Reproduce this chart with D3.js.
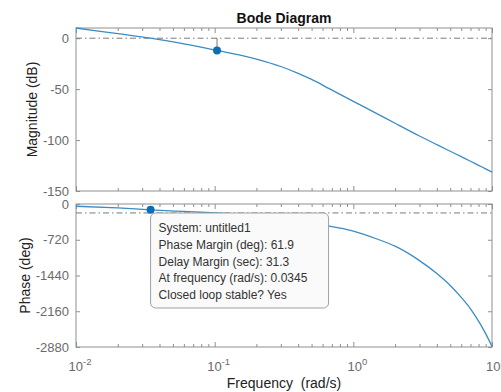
<!DOCTYPE html>
<html>
<head>
<meta charset="utf-8">
<script src="https://cdn.jsdelivr.net/npm/d3@7"></script>
<style>
body { margin: 0; background: #fff; }
text { font-family: "Liberation Sans", Arial, sans-serif; }
</style>
</head>
<body>
<div id="chart"></div>
<script>
var w = 501;
var h = 392;

// frequency response
var freq     = [0.01, 0.02, 0.0345, 0.06, 0.104, 0.15, 0.2, 0.3, 0.4, 0.5, 0.67, 1, 1.5, 2, 3, 4, 5, 6, 7, 8, 9, 10];
var magDb    = [10, 4.4, 0, -5.6, -12, -16.3, -20.5, -27.8, -34.5, -40.5, -49.5, -62, -74.5, -83.5, -96, -104.5, -111, -116.3, -120.8, -124.8, -128.3, -131.5];
var phaseDeg = [-45, -80, -118, -150, -180, -205, -230, -270, -320, -365, -446, -545, -710, -850, -1140, -1400, -1640, -1880, -2110, -2360, -2610, -2870];

var magTicks = [0, -50, -100, -150];
var phaseTicks = [0, -720, -1440, -2160, -2880];
var decades = [0.01, 0.1, 1, 10];
var decadeExp = ["-2", "-1", "0", "1"];

// margin markers
var gmFreq = 0.104, gmMag = -12;
var pmFreq = 0.0345, pmPhase = -118.1;

var tipLines = [
	"System: untitled1",
	"Phase Margin (deg): 61.9",
	"Delay Margin (sec): 31.3",
	"At frequency (rad/s): 0.0345",
	"Closed loop stable? Yes"
];

var left = 76, right = 492;
var magTop = 28, magBottom = 191;
var phTop = 204, phBottom = 347;

var lineColor = "#3a8cc4";
var dotColor = "#0b6fb8";
var axisColor = "#8f8f8f";
var labelColor = "#6a6a6a";

var svg = d3.select("#chart")
			.append("svg")
			.attr("width", w)
			.attr("height", h);

var x = d3.scaleLog()
			.domain([0.01, 10])
			.range([left, right]);

var yMag = d3.scaleLinear()
			.domain([-150, 10])
			.range([magBottom, magTop]);

var yPh = d3.scaleLinear()
			.domain([-2880, 0])
			.range([phBottom, phTop]);

var minorTicks = x.ticks().filter(function(d) {
	return decades.indexOf(d) < 0;
});

function styleAxis(g) {
	g.select(".domain").remove();
	g.selectAll("line").attr("stroke", axisColor);
	g.selectAll("text")
		.attr("fill", labelColor)
		.attr("font-size", 13)
		.attr("font-family", "'Liberation Sans', Arial, sans-serif");
}

function drawFrame(y, top, bottom, ticks) {
	//x ticks top and bottom, inside
	svg.append("g")
		.attr("transform", "translate(0," + bottom + ")")
		.call(d3.axisBottom(x).tickValues(minorTicks).tickSizeInner(-3).tickFormat(""))
		.call(styleAxis);
	svg.append("g")
		.attr("transform", "translate(0," + bottom + ")")
		.call(d3.axisBottom(x).tickValues(decades).tickSizeInner(-5).tickFormat(""))
		.call(styleAxis);
	svg.append("g")
		.attr("transform", "translate(0," + top + ")")
		.call(d3.axisTop(x).tickValues(minorTicks).tickSizeInner(-3).tickFormat(""))
		.call(styleAxis);
	svg.append("g")
		.attr("transform", "translate(0," + top + ")")
		.call(d3.axisTop(x).tickValues(decades).tickSizeInner(-5).tickFormat(""))
		.call(styleAxis);

	//y ticks both sides
	svg.append("g")
		.attr("transform", "translate(" + left + ",0)")
		.call(d3.axisLeft(y).tickValues(ticks).tickSizeInner(-4).tickPadding(7).tickFormat(String))
		.call(styleAxis);
	svg.append("g")
		.attr("transform", "translate(" + right + ",0)")
		.call(d3.axisRight(y).tickValues(ticks).tickSizeInner(-4).tickFormat(""))
		.call(styleAxis);

	svg.append("rect")
		.attr("x", left)
		.attr("y", top)
		.attr("width", right - left)
		.attr("height", bottom - top)
		.attr("fill", "none")
		.attr("stroke", axisColor)
		.attr("stroke-width", 1);
}

drawFrame(yMag, magTop, magBottom, magTicks);
drawFrame(yPh, phTop, phBottom, phaseTicks);

// reference lines 0 dB and -180 deg
svg.append("line")
	.attr("x1", left).attr("x2", right)
	.attr("y1", yMag(0)).attr("y2", yMag(0))
	.attr("stroke", "#7a7a7a")
	.attr("stroke-dasharray", "6,3,1.5,3");

svg.append("line")
	.attr("x1", left).attr("x2", right)
	.attr("y1", yPh(-180)).attr("y2", yPh(-180))
	.attr("stroke", "#7a7a7a")
	.attr("stroke-dasharray", "6,3,1.5,3");

var magLine = d3.line()
	.x(function(d, i) { return x(freq[i]); })
	.y(function(d) { return yMag(d); })
	.curve(d3.curveMonotoneX);

var phLine = d3.line()
	.x(function(d, i) { return x(freq[i]); })
	.y(function(d) { return yPh(d); })
	.curve(d3.curveMonotoneX);

svg.append("path")
	.attr("d", magLine(magDb))
	.attr("fill", "none")
	.attr("stroke", lineColor)
	.attr("stroke-width", 1.3);

svg.append("path")
	.attr("d", phLine(phaseDeg))
	.attr("fill", "none")
	.attr("stroke", lineColor)
	.attr("stroke-width", 1.3);

//gain margin marker
svg.append("line")
	.attr("x1", x(gmFreq)).attr("x2", x(gmFreq))
	.attr("y1", yMag(0)).attr("y2", yMag(gmMag))
	.attr("stroke", "#555")
	.attr("stroke-width", 0.8);
svg.append("circle")
	.attr("cx", x(gmFreq))
	.attr("cy", yMag(gmMag))
	.attr("r", 4)
	.attr("fill", dotColor);

//phase margin marker
svg.append("line")
	.attr("x1", x(pmFreq)).attr("x2", x(pmFreq))
	.attr("y1", yPh(-180)).attr("y2", yPh(pmPhase))
	.attr("stroke", "#555")
	.attr("stroke-width", 0.8);
svg.append("circle")
	.attr("cx", x(pmFreq))
	.attr("cy", yPh(pmPhase))
	.attr("r", 4)
	.attr("fill", dotColor);

//data tip
var tipX = x(pmFreq), tipY = 213;
var tip = svg.append("g")
	.attr("transform", "translate(" + tipX + "," + tipY + ")");
tip.append("rect")
	.attr("width", 178)
	.attr("height", 95)
	.attr("rx", 5)
	.attr("fill", "#fafafa")
	.attr("stroke", "#a0a0a0");
tip.selectAll("text")
	.data(tipLines)
	.enter()
	.append("text")
	.attr("x", 8)
	.attr("y", function(d, i) { return 19 + i * 16.8; })
	.attr("font-size", 12)
	.attr("fill", "#333")
	.text(function(d) { return d; });

//x tick labels 10^n
var xl = svg.selectAll("text.xlab")
	.data(decades)
	.enter()
	.append("text")
	.attr("class", "xlab")
	.attr("x", function(d) { return x(d) + 4; })
	.attr("y", phBottom + 24)
	.attr("text-anchor", "middle")
	.attr("font-size", 13)
	.attr("fill", labelColor);
xl.append("tspan").text("10");
xl.append("tspan")
	.attr("dy", -6)
	.attr("font-size", 9.5)
	.text(function(d, i) { return decadeExp[i]; });

svg.append("text")
	.attr("x", (left + right) / 2)
	.attr("y", 23)
	.attr("text-anchor", "middle")
	.attr("font-size", 14)
	.attr("font-weight", "bold")
	.attr("fill", "#111")
	.text("Bode Diagram");

svg.append("text")
	.attr("x", (left + right) / 2)
	.attr("y", 388)
	.attr("text-anchor", "middle")
	.attr("font-size", 14)
	.attr("fill", "#222")
	.style("white-space", "pre")
	.text("Frequency  (rad/s)");

svg.append("text")
	.attr("transform", "translate(37," + (magTop + magBottom) / 2 + ") rotate(-90)")
	.attr("text-anchor", "middle")
	.attr("font-size", 14)
	.attr("fill", "#222")
	.text("Magnitude (dB)");

svg.append("text")
	.attr("transform", "translate(30," + (phTop + phBottom) / 2 + ") rotate(-90)")
	.attr("text-anchor", "middle")
	.attr("font-size", 14)
	.attr("fill", "#222")
	.text("Phase (deg)");
</script>
</body>
</html>
